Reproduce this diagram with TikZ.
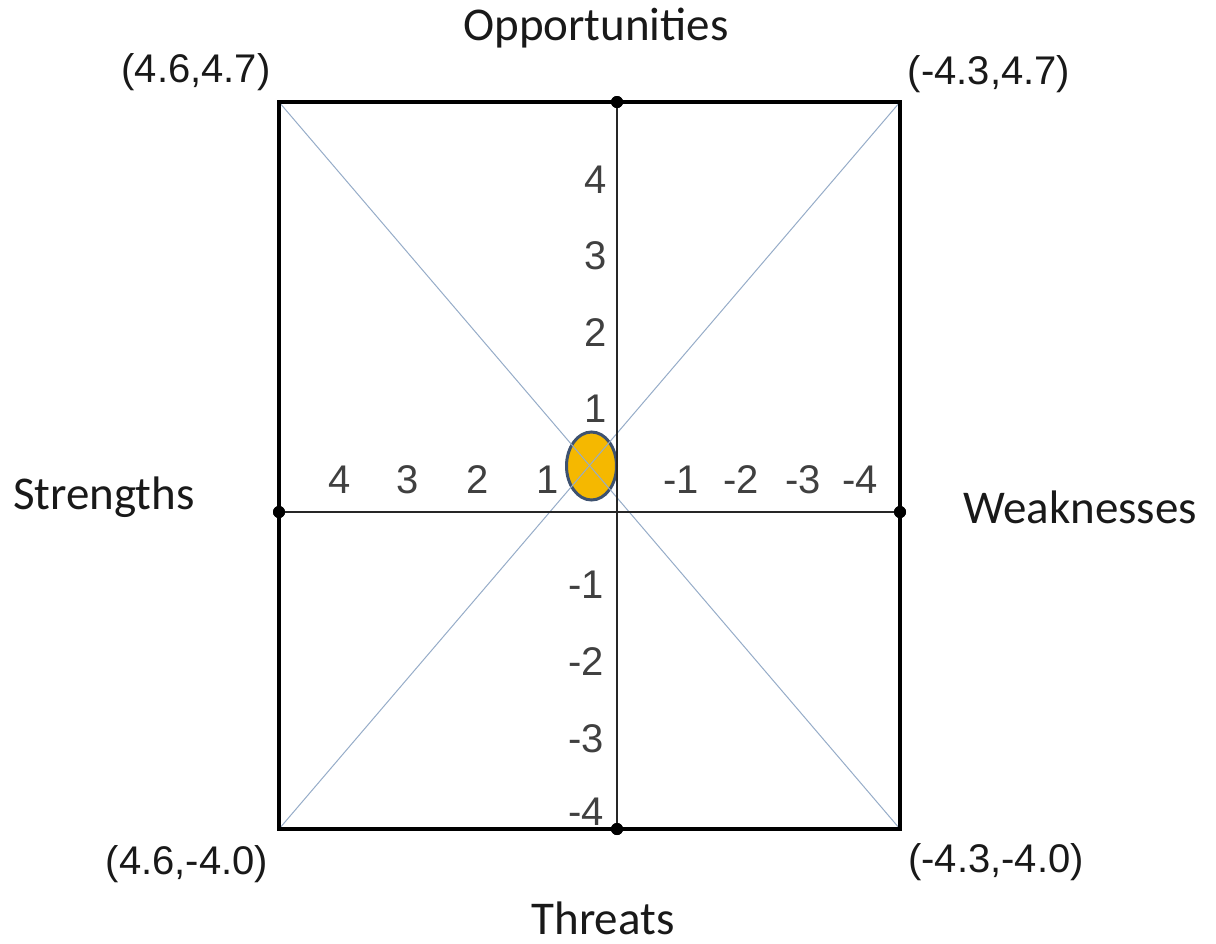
\documentclass[tikz,border=0pt]{standalone}
\usepackage{fontspec}
\setmainfont{Carlito}
\newfontfamily\numfont{Liberation Sans}
\usetikzlibrary{positioning,shapes.geometric}

\definecolor{diagblue}{RGB}{150,172,200}
\definecolor{blobfill}{RGB}{245,184,0}
\definecolor{blobline}{RGB}{62,82,112}
\definecolor{ticktext}{RGB}{64,64,64}

\begin{document}
\begin{tikzpicture}[
    x=0.5pt, y=-0.5pt,
    frame/.style={line width=2pt, draw=black},
    axis/.style={line width=0.8pt, draw=black!85},
    diag/.style={line width=0.5pt, draw=diagblue},
    dot/.style={circle, fill=black, inner sep=0pt, minimum size=6pt},
    side/.style={font=\fontsize{23.5}{28}\selectfont, text=black!90},
    corner/.style={font=\numfont\fontsize{20}{24}\selectfont, text=black!90},
    tick/.style={font=\numfont\fontsize{20}{24}\selectfont, text=ticktext},
    blob/.style={ellipse, draw=blobline, fill=blobfill, line width=1.5pt, minimum width=25pt, minimum height=34pt, inner sep=0pt}
  ]
    \useasboundingbox (0,0) rectangle (1216,943);

    % box corners and axis ends
    \coordinate (tl) at (279,102);
    \coordinate (tr) at (900,102);
    \coordinate (bl) at (279,829);
    \coordinate (br) at (900,829);
    \node[dot] (top) at (617,102) {};
    \node[dot] (bottom) at (617,829) {};
    \node[dot] (left) at (279,512) {};
    \node[dot] (right) at (900,512) {};

    \node[blob] (position) at (591.5,466) {};
    \draw[diag] (tl) -- (br);
    \draw[diag] (tr) -- (bl);

    \draw[axis] (top) -- (bottom);
    \draw[axis] (left) -- (right);
    \draw[frame] (tl) -- (tr) -- (br) -- (bl) -- cycle;
    \node[dot] at (top) {};
    \node[dot] at (bottom) {};
    \node[dot] at (left) {};
    \node[dot] at (right) {};

    % scale numbers
    \foreach \v/\y in {4/180, 3/256, 2/333, 1/409}
      \node[tick] (o\v) at (596,\y) {\v};
    \foreach \v/\y in {1/585, 2/662, 3/739, 4/812}
      \node[tick] (t\v) at (586,\y) {-\v};
    \foreach \v/\x in {4/340, 3/408, 2/478, 1/548}
      \node[tick] (s\v) at (\x,480) {\v};
    \foreach \v/\x in {1/681, 2/741, 3/803, 4/860}
      \node[tick] (w\v) at (\x,480) {-\v};

    \node[side] (opp) at (596,28) {Opportunities};
    \node[side] (thr) at (603,918) {Threats};
    \node[side] (str) at (104,497) {Strengths};
    \node[side] (weak) at (1080,507) {Weaknesses};

    \node[corner] (ctl) at (196,72) {(4.6,4.7)};
    \node[corner] (ctr) at (989,74) {(-4.3,4.7)};
    \node[corner] (cbl) at (187,864) {(4.6,-4.0)};
    \node[corner] (cbr) at (996,862) {(-4.3,-4.0)};
  \end{tikzpicture}
\end{document}
